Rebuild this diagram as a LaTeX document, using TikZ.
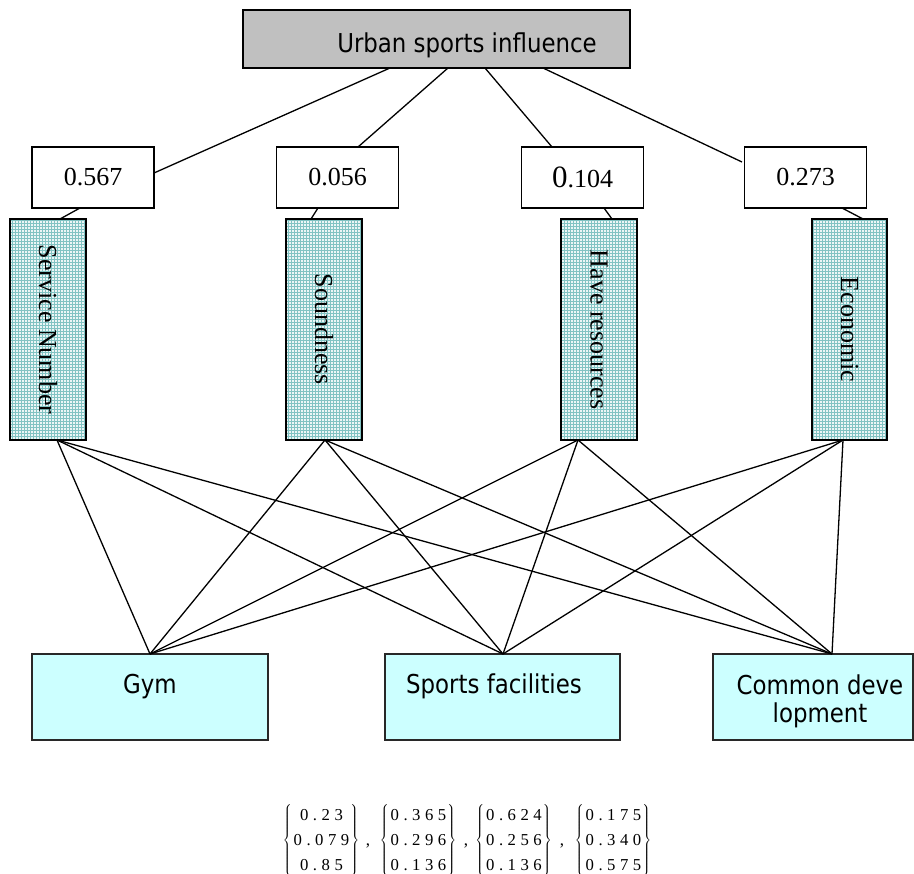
\documentclass[tikz,border=0pt]{standalone}
\usepackage{fontspec}
\setmainfont{Liberation Serif}
\newfontfamily\tahfont[FakeStretch=0.88]{DejaVu Sans}
\newfontfamily\matfont[LetterSpace=27]{Liberation Serif}
\usetikzlibrary{patterns}
\definecolor{topgray}{RGB}{192,192,192}
\definecolor{altfill}{RGB}{204,255,255}
\definecolor{altline}{RGB}{40,40,40}
\definecolor{critfill}{RGB}{236,246,246}
\definecolor{critdot}{RGB}{130,195,195}
\begin{document}
\begin{tikzpicture}[x=1pt,y=-1pt,
  conn/.style={line width=1.3pt},
  topbox/.style={draw, line width=1.8pt, fill=topgray, minimum width=387pt, minimum height=58pt,
    inner sep=0pt, font=\tahfont\fontsize{26}{30}\selectfont, text height=40pt, text depth=12pt},
  numbox/.style={draw, line width=1.8pt, fill=white, minimum width=122pt, minimum height=61pt,
    inner sep=0pt, font=\fontsize{26}{30}\selectfont},
  critbox/.style={draw, line width=1.8pt, preaction={fill=critfill}, pattern=grid, pattern color=critdot,
    minimum width=76pt, minimum height=221pt, inner sep=0pt, font=\fontsize{26}{30}\selectfont},
  altbox/.style={draw=altline, line width=1.8pt, fill=altfill, minimum height=86pt, inner sep=0pt,
    font=\tahfont\fontsize{26}{27}\selectfont, text height=20pt, text depth=28pt},
  matgrp/.style={inner sep=0pt, font=\matfont\fontsize{16.7}{25}\selectfont},
  sep/.style={inner sep=0pt, anchor=base, font=\fontsize{17}{20}\selectfont}
]
\useasboundingbox (0,0) rectangle (914,874);

% goal
\node[topbox] (goal) at (436.5,39) {\hspace*{61pt}Urban sports influence};

% weights
\node[numbox] (w1) at (93,177.5) {0.567};
\node[numbox] (w2) at (337.5,177.5) {0.056};
\node[numbox] (w3) at (582.5,177.5) {{\fontsize{31}{30}\selectfont 0}.104};
\node[numbox] (w4) at (805.5,177.5) {0.273};

% criteria
\node[critbox] (c1) at (48,329.5) {\rotatebox{-90}{Service Number}};
\node[critbox] (c2) at (324,329.5) {\rotatebox{-90}{Soundness}};
\node[critbox] (c3) at (599,329.5) {\rotatebox{-90}{Have resources}};
\node[critbox, minimum width=75pt] (c4) at (849.5,329.5) {\rotatebox{-90}{Economic}};

% alternatives
\node[altbox, minimum width=236pt] (a1) at (150,697) {Gym};
\node[altbox, minimum width=235pt] (a2) at (502.5,697) {Sports facilities\hspace*{17pt}};
\node[altbox, minimum width=200pt, text height=24pt, text depth=28pt] (a3) at (813,697)
  {\hspace*{14pt}\begin{tabular}[t]{@{}c@{}}Common deve\\lopment\end{tabular}};

% attach points
\coordinate (g1) at (390,68);  \coordinate (g2) at (448,68);
\coordinate (g3) at (485,68);  \coordinate (g4) at (543,68);
\coordinate (w1in) at (154,173); \coordinate (w2in) at (358,147);
\coordinate (w3in) at (552,147); \coordinate (w4in) at (742,162);
\coordinate (w1out) at (80,208);  \coordinate (c1in) at (60,219);
\coordinate (w2out) at (318,208); \coordinate (c2in) at (311,219);
\coordinate (w3out) at (604,208); \coordinate (c3in) at (612,219);
\coordinate (w4out) at (842,208); \coordinate (c4in) at (863,219);
\coordinate (c1out) at (57,440);  \coordinate (c2out) at (325,440);
\coordinate (c3out) at (578,440); \coordinate (c4out) at (843,440);
\coordinate (a1in) at (150,654);  \coordinate (a2in) at (503,654);
\coordinate (a3in) at (832,654);

% connectors
\draw[conn] (g1) -- (w1in);
\draw[conn] (g2) -- (w2in);
\draw[conn] (g3) -- (w3in);
\draw[conn] (g4) -- (w4in);
\draw[conn] (w1out) -- (c1in);
\draw[conn] (w2out) -- (c2in);
\draw[conn] (w3out) -- (c3in);
\draw[conn] (w4out) -- (c4in);
\foreach \c in {c1out,c2out,c3out,c4out}{
  \foreach \a in {a1in,a2in,a3in}{
    \draw[conn] (\c) -- (\a);
  }
}

% weight vectors
\node[matgrp] (m1) at (321,840) {$\left\{\hspace{2pt}\mbox{\begin{tabular}{@{}c@{}}0.23\\0.079\\0.85\end{tabular}}\hspace{1pt}\right\}$};
\node[matgrp] (m2) at (418,840) {$\left\{\hspace{2pt}\mbox{\begin{tabular}{@{}c@{}}0.365\\0.296\\0.136\end{tabular}}\hspace{1pt}\right\}$};
\node[matgrp] (m3) at (513.5,840) {$\left\{\hspace{2pt}\mbox{\begin{tabular}{@{}c@{}}0.624\\0.256\\0.136\end{tabular}}\hspace{1pt}\right\}$};
\node[matgrp] (m4) at (613,840) {$\left\{\hspace{2pt}\mbox{\begin{tabular}{@{}c@{}}0.175\\0.340\\0.575\end{tabular}}\hspace{1pt}\right\}$};
\node[sep] (k1) at (368,845) {,};
\node[sep] (k2) at (466,845) {,};
\node[sep] (k3) at (562,845) {,};
\end{tikzpicture}
\end{document}
